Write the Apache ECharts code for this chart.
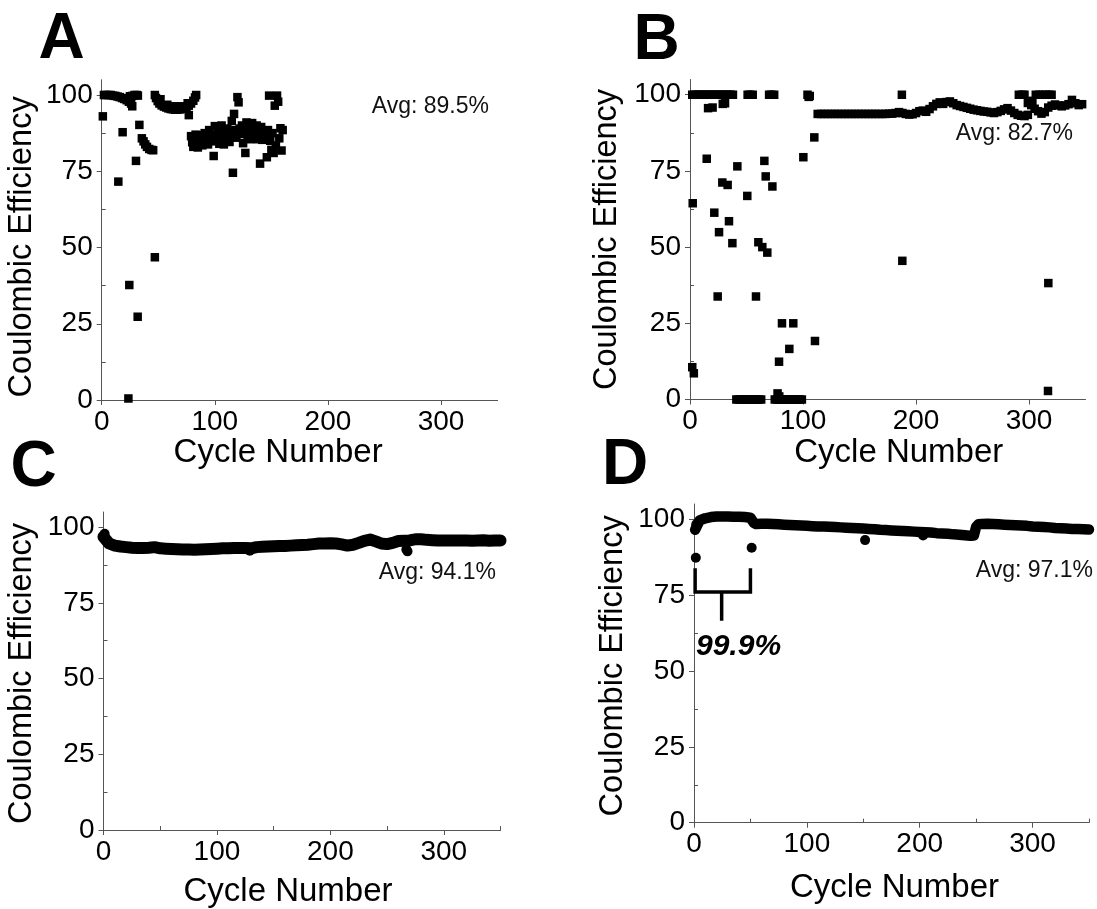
<!DOCTYPE html>
<html>
<head>
<meta charset="utf-8">
<title>Coulombic Efficiency</title>
<script src="https://cdn.jsdelivr.net/npm/echarts@6.0.0/dist/echarts.min.js"></script>
<style>
  html, body { margin: 0; padding: 0; background: #fff; }
  #chart { width: 1097px; height: 909px; }
</style>
</head>
<body>
<div id="chart"></div>
<script>
  // axis ticks
  const cycleTicks = [0, 100, 200, 300]
  const cycleMinorTicks = [50, 150, 250, 350]
  const ceTicks = [0, 25, 50, 75, 100]
  const ceMinorTicks = [12.5, 37.5, 62.5, 87.5]

  const panelLetters = ['A', 'B', 'C', 'D']
  const avgLabels = ['Avg: 89.5%', 'Avg: 82.7%', 'Avg: 94.1%', 'Avg: 97.1%']
  const bracketLabel = '99.9%'

  // panel A : [cycle, CE %]
  const dataA = [
    [1, 93], [2, 100], [4, 100], [6, 100], [8, 100], [10, 99.8], [12, 99.7], [14, 99.5], [16, 99.3],
    [18, 99.0], [20, 98.7], [22, 98.3], [24, 97.8], [26, 97.2], [27, 96.3], [25, 99.6], [27, 99.7],
    [29, 100], [31, 100], [32, 99.8],
    [18.5, 87.8], [14.7, 71.6], [24.4, 37.7], [23.6, 0.5], [31.8, 27.3], [30.3, 78.4], [33.3, 90.2],
    [35.5, 85.8], [37, 84.8], [38.5, 83.8], [40, 83], [42, 82.3], [44, 82], [45.5, 81.9], [47, 46.8],
    [47, 100], [48, 99], [49.5, 98], [51, 97.2], [53, 96.6], [55, 96.2], [57, 95.9], [59, 95.6],
    [61, 95.4], [63, 95.3], [65, 95.2], [67, 95.2], [69, 95.3], [71, 95.4], [73, 95.6], [75, 96],
    [77, 96.5], [79, 97.2], [81, 98.1], [82.5, 99.2], [83.5, 100], [77, 93.4],
    [52, 98.6], [58, 96.8], [64, 96.3], [70, 96.3], [76, 97.3],
    [79, 86.5], [80, 84.5], [81, 83], [82, 85.5], [83, 87], [84, 84], [85, 82.8], [86, 85.5],
    [87, 84.2], [88, 86.8], [89, 83.5], [90, 85], [91, 87.5], [92, 84.5], [93, 86], [94, 83.8],
    [95, 88.5], [96, 85.3], [97, 87], [98, 84.8], [99, 80], [100, 89.8], [101, 86.5], [102, 85],
    [103, 88], [104, 84], [105, 87.2], [106, 90], [107, 85.8], [108, 83.8], [109, 88.5], [110, 86.5],
    [111, 89], [112, 85.5], [113, 84.6], [114, 87.8], [115, 91.5], [116, 74.5], [117, 93.8], [118, 88.5],
    [119, 86], [120, 99.3], [121, 97.6], [122, 89], [123, 87.2], [124, 90], [125, 84.2], [126, 88.5],
    [127, 81], [128, 91], [129, 86.8], [130, 89.5], [131, 85.5], [132, 88], [133, 90.8], [134, 86.5],
    [135, 89.2], [136, 87.5], [137, 90], [138, 85.5], [139, 88.6], [140, 77.5], [141, 89.5], [142, 85.3],
    [143, 88.2], [144, 86.9], [145, 86.5], [146, 79.6], [147, 88.5], [148, 99.8], [149, 85], [150, 82],
    [151, 87.5], [152, 81], [153, 96.5], [154, 83.5], [155, 99.8], [156, 97.8], [157, 85.8], [158, 89.1],
    [159, 81.8], [160, 88.5]
  ]

  // panel B : [cycle, CE %]
  const dataB = [
    [2, 100], [4, 100], [6, 100], [8, 100], [10, 100], [12, 100], [14, 100], [16, 100], [18, 100],
    [20, 100], [22, 100], [24, 100], [26, 100], [28, 100], [30, 100], [32, 100], [34, 100], [36, 100],
    [38, 100], [51, 100], [53, 100], [55.5, 100], [70, 100], [72, 100], [74.5, 100],
    [104, 100], [105, 99.3], [106, 99.6], [187.5, 100],
    [16, 95.6], [20, 95.8], [29, 97.0], [31, 97.2],
    [14.8, 79.0], [65.8, 78.3], [100.3, 79.5], [110, 86.0], [41.9, 76.5], [67, 73.2], [28.6, 71.2],
    [33.3, 70.4], [72.9, 69.9], [50.7, 66.8], [2.4, 64.4], [21.5, 61.3], [34.5, 58.5], [25.7, 54.9],
    [37.5, 51.3], [60.5, 51.6], [64, 50.0], [68.4, 48.2], [187.9, 45.5], [317.1, 38.2], [24.5, 33.8],
    [58.4, 33.8], [81.4, 25.0], [91.4, 25.0], [110.6, 19.2], [87.9, 16.6], [78.8, 12.4], [2, 10.6],
    [3.4, 8.6], [316.8, 2.8], [77.5, 2.0], [79, 1.0],
    [41, 0], [43, 0], [45, 0], [47, 0], [49, 0], [51, 0], [53, 0], [55, 0], [57, 0], [59, 0], [61, 0],
    [63, 0], [75, 0], [77, 0], [79, 0], [81, 0], [83, 0], [85, 0], [87, 0], [89, 0], [91, 0], [93, 0],
    [95, 0], [97, 0], [99, 0],
    [113, 93.7], [116, 93.7], [119, 93.7], [122, 93.7], [125, 93.7], [128, 93.7], [131, 93.7],
    [134, 93.7], [137, 93.7], [140, 93.7], [143, 93.7], [146, 93.7], [149, 93.7], [152, 93.7],
    [155, 93.7], [158, 93.7], [161, 93.7], [164, 93.7], [167, 93.7], [170, 93.7], [173, 93.7],
    [176, 93.8], [179, 93.8], [182, 94.0], [185, 94.3], [188, 94.0], [191, 93.7], [194, 93.5],
    [197, 93.6], [200, 94.0], [203, 94.6], [206, 94.8], [209, 94.4], [212, 95.3], [215, 96.2],
    [218, 97.0], [221, 97.5], [224, 97.0], [227, 97.6], [230, 97.8], [233, 97.2], [236, 96.6],
    [239, 96.3], [242, 96.0], [245, 95.7], [248, 95.4], [251, 95.1], [254, 94.9], [257, 94.7],
    [260, 94.5], [263, 94.4], [266, 94.2], [269, 94.0], [272, 94.3], [275, 94.7], [278, 95.2],
    [281, 95.6], [284, 94.8], [287, 94.0], [290, 93.4], [293, 93.1], [296, 93.0], [299, 93.4],
    [302, 96.6], [305, 95.4], [308, 94.6], [311, 93.8], [314, 94.3], [317, 95.8], [320, 96.4],
    [323, 96.8], [326, 96.5], [329, 96.2], [332, 96.5], [335, 96.9], [338, 98.3], [341, 97.2],
    [344, 96.6], [347, 96.9],
    [291, 100], [294, 100], [296, 100], [306, 100], [309, 100], [312, 100], [315, 100], [318, 100],
    [320, 100], [299, 97.3], [303, 98.0]
  ]

  // panel C : cycle / CE band
  const cCycles = [0, 5, 10, 15, 20, 25, 30, 35, 40, 45, 50, 55, 60, 65, 70, 75, 80, 85, 90, 95,
    100, 105, 110, 115, 120, 125, 130, 135, 140, 145, 150, 155, 160, 165, 170, 175, 180, 185, 190, 195,
    200, 205, 210, 215, 220, 225, 230, 235, 240, 245, 250, 255, 260, 265, 270, 275, 280, 285, 290, 295,
    300, 305, 310, 315, 320, 325, 330, 335, 340, 345, 350]
  const cValues = [96.8, 94.6, 93.9, 93.6, 93.4, 93.2, 93.1, 93.1, 93.2, 93.4, 93.0, 92.9, 92.8, 92.7,
    92.6, 92.6, 92.5, 92.6, 92.7, 92.8, 92.9, 93.0, 93.0, 93.1, 93.1, 93.1, 93.0, 93.4, 93.5, 93.6,
    93.7, 93.8, 93.8, 93.9, 94.0, 94.1, 94.2, 94.4, 94.6, 94.6, 94.7, 94.6, 94.3, 93.9, 94.2, 94.8,
    95.5, 95.9, 95.3, 94.6, 94.4, 94.8, 95.4, 95.5, 95.6, 96.0, 96.0, 95.8, 95.7, 95.6, 95.6, 95.6,
    95.6, 95.6, 95.6, 95.5, 95.6, 95.7, 95.5, 95.6, 95.6]
  const cOutliers = [[129, 92.2], [267, 92.6], [268, 92.0], [1, 97.8]]

  // panel D : cycle / CE band
  const dCycles = [1, 5, 10, 15, 20, 25, 30, 35, 40, 45, 50, 53, 55, 60, 65, 70, 75, 80, 85, 90,
    95, 100, 105, 110, 115, 120, 125, 130, 135, 140, 145, 150, 155, 160, 165, 170, 175, 180, 185, 190,
    195, 200, 205, 210, 215, 220, 225, 230, 235, 240, 245, 248, 250, 252, 255, 260, 265, 270, 275, 280,
    285, 290, 295, 300, 305, 310, 315, 320, 325, 330, 335, 340, 345, 350]
  const dValues = [96.5, 99.6, 100.3, 100.7, 100.9, 100.9, 100.9, 100.8, 100.8, 100.7, 100.5, 98.8,
    98.4, 98.5, 98.5, 98.4, 98.3, 98.2, 98.1, 98.0, 97.9, 97.8, 97.7, 97.6, 97.6, 97.5, 97.4, 97.3,
    97.2, 97.1, 97.0, 96.9, 96.8, 96.7, 96.5, 96.4, 96.3, 96.2, 96.1, 96.0, 95.9, 95.8, 95.7, 95.6,
    95.4, 95.3, 95.2, 95.0, 94.9, 94.7, 94.5, 94.6, 97.5, 98.3, 98.4, 98.5, 98.4, 98.3, 98.2, 98.1,
    98.0, 97.9, 97.8, 97.6, 97.5, 97.4, 97.3, 97.1, 97.0, 96.9, 96.8, 96.8, 96.7, 96.6]
  const dOutliers = [[1.6, 87.3], [51.1, 90.6], [151.6, 93.1], [203, 94.6], [2, 98.3]]

  // bracket over the first 50 cycles of D
  const bracketD = [[1, 83.8], [1, 76], [50, 76], [50, 83.8]]
  const bracketStem = [[24.5, 76], [24.5, 66.5]]

  const FONT = "'Liberation Sans', Arial, Helvetica, sans-serif"
  const AXIS_COLOR = '#555'

  const grids = [
    { left: 101.7, top: 79.75, width: 395.9, height: 320.25 },
    { left: 690, top: 79.5, width: 395.5, height: 320 },
    { left: 103.5, top: 512, width: 397, height: 319 },
    { left: 694, top: 504, width: 395, height: 318.7 }
  ]
  const xNameGap = [36, 36.5, 45, 49]
  const xNamePad = [[0, 43, 0, 0], [0, 0, 0, 22], [0, 28, 0, 0], [0, 0, 0, 6]]
  const yNameGap = [63, 66, 65, 64.5]
  const yNamePad = [[0, 14, 0, 0], [0, 0, 0, 0], [0, 5, 0, 0], [0, 5, 0, 0]]

  function majorX(i) {
    return {
      type: 'value', gridIndex: i, min: 0, max: 350,
      axisLine: { show: true, onZero: false, lineStyle: { color: AXIS_COLOR, width: 1 } },
      axisTick: { show: true, customValues: cycleTicks, length: 5, lineStyle: { color: AXIS_COLOR } },
      axisLabel: { customValues: cycleTicks, fontSize: 28, color: '#000', margin: 8, fontFamily: FONT },
      splitLine: { show: false },
      name: 'Cycle Number', nameLocation: 'middle', nameGap: xNameGap[i],
      nameTextStyle: { fontSize: 33, color: '#000', fontFamily: FONT, padding: xNamePad[i] }
    }
  }
  function minorX(i) {
    return {
      type: 'value', gridIndex: i, min: 0, max: 350,
      axisLine: { show: false },
      axisTick: { show: true, customValues: cycleMinorTicks, length: 4, lineStyle: { color: AXIS_COLOR } },
      axisLabel: { show: false },
      splitLine: { show: false }
    }
  }
  function majorY(i) {
    return {
      type: 'value', gridIndex: i, min: 0, max: 105,
      axisLine: { show: true, onZero: false, lineStyle: { color: AXIS_COLOR, width: 1 } },
      axisTick: { show: true, customValues: ceTicks, length: 5, lineStyle: { color: AXIS_COLOR } },
      axisLabel: { customValues: ceTicks, fontSize: 28, color: '#000', margin: 9, fontFamily: FONT },
      splitLine: { show: false },
      name: 'Coulombic Efficiency', nameLocation: 'middle', nameGap: yNameGap[i],
      nameTextStyle: { fontSize: 32.5, color: '#000', fontFamily: FONT, padding: yNamePad[i] }
    }
  }
  function minorY(i) {
    return {
      type: 'value', gridIndex: i, min: 0, max: 105,
      axisLine: { show: false },
      axisTick: { show: true, customValues: ceMinorTicks, length: 4, lineStyle: { color: AXIS_COLOR } },
      axisLabel: { show: false },
      splitLine: { show: false }
    }
  }

  function pairs(xs, ys) {
    return xs.map((x, k) => [x, ys[k]])
  }

  // x axes: 0-3 major, 4-5 minor (C, D) ; y axes: 0-3 major, 4-7 minor
  const xAxes = [majorX(0), majorX(1), majorX(2), majorX(3), minorX(2), minorX(3)]
  const yAxes = [majorY(0), majorY(1), majorY(2), majorY(3), minorY(0), minorY(1), minorY(2), minorY(3)]

  const dot = { color: '#000', opacity: 1 }
  const series = [
    {
      type: 'scatter', xAxisIndex: 0, yAxisIndex: 0, data: dataA, clip: false,
      symbol: 'rect', symbolSize: 8.5, itemStyle: dot
    },
    {
      type: 'scatter', xAxisIndex: 1, yAxisIndex: 1, data: dataB, clip: false,
      symbol: 'rect', symbolSize: 8.5, itemStyle: dot
    },
    {
      type: 'line', xAxisIndex: 2, yAxisIndex: 2, data: pairs(cCycles, cValues), clip: false,
      symbol: 'none', lineStyle: { color: '#000', width: 12, cap: 'round', join: 'round' }
    },
    {
      type: 'scatter', xAxisIndex: 2, yAxisIndex: 2, data: cOutliers, clip: false,
      symbol: 'circle', symbolSize: 10, itemStyle: dot
    },
    {
      type: 'line', xAxisIndex: 3, yAxisIndex: 3, data: pairs(dCycles, dValues), clip: false,
      symbol: 'none', lineStyle: { color: '#000', width: 10.5, cap: 'round', join: 'round' }
    },
    {
      type: 'scatter', xAxisIndex: 3, yAxisIndex: 3, data: dOutliers, clip: false,
      symbol: 'circle', symbolSize: 10, itemStyle: dot
    },
    {
      type: 'line', xAxisIndex: 3, yAxisIndex: 3, data: bracketD, clip: false, silent: true,
      symbol: 'none', lineStyle: { color: '#000', width: 3.5, cap: 'butt', join: 'miter' }
    },
    {
      type: 'line', xAxisIndex: 3, yAxisIndex: 3, data: bracketStem, clip: false, silent: true,
      symbol: 'none', lineStyle: { color: '#000', width: 3.5, cap: 'butt' }
    }
  ]

  const letterPos = [[38.5, 40], [633.5, 41], [10.5, 468], [602, 466.5]]
  const avgPos = [[489, 106.5], [1073, 134], [496, 573], [1093, 570.5]]

  const graphics = []
  panelLetters.forEach((t, i) => {
    graphics.push({
      type: 'text',
      style: {
        text: t, x: letterPos[i][0], y: letterPos[i][1], fill: '#000',
        font: 'bold 64px ' + FONT, textAlign: 'left', textVerticalAlign: 'middle'
      }
    })
  })
  avgLabels.forEach((t, i) => {
    graphics.push({
      type: 'text',
      style: {
        text: t, x: avgPos[i][0], y: avgPos[i][1], fill: '#111',
        font: '23px ' + FONT, textAlign: 'right', textVerticalAlign: 'middle'
      }
    })
  })
  graphics.push({
    type: 'text',
    style: {
      text: bracketLabel, x: 696, y: 647, fill: '#000',
      font: 'italic bold 30px ' + FONT, textAlign: 'left', textVerticalAlign: 'middle'
    }
  })

  const chart = echarts.init(document.getElementById('chart'), null, { renderer: 'canvas' })
  chart.setOption({
    animation: false,
    backgroundColor: '#fff',
    textStyle: { fontFamily: FONT },
    grid: grids,
    xAxis: xAxes,
    yAxis: yAxes,
    series: series,
    graphic: graphics
  })
</script>
</body>
</html>
